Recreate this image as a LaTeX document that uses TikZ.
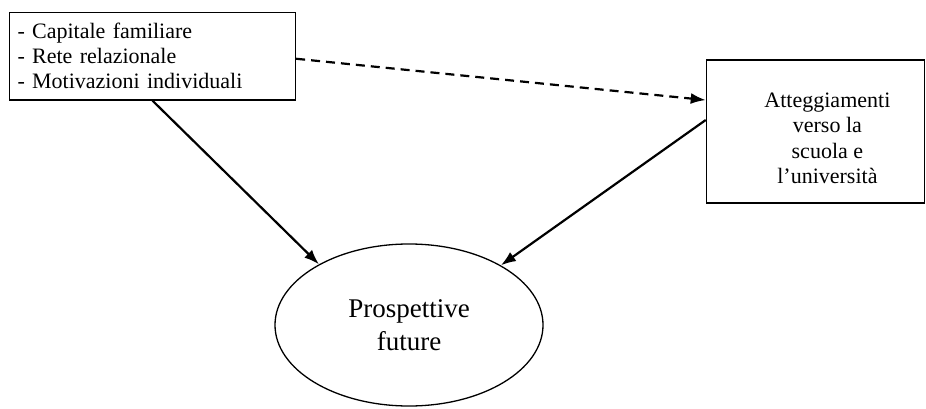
\documentclass[tikz,border=0pt]{standalone}
\usepackage{fontspec}
\setmainfont{Liberation Serif}
\usepackage{tikz}
\usetikzlibrary{shapes.geometric,arrows.meta,positioning}

\begin{document}
\begin{tikzpicture}[
            x=1pt,y=1pt,
            box/.style={draw,rectangle,line width=1.3pt,inner sep=0pt,
                        font=\fontsize{22}{25}\selectfont},
            oval/.style={draw,ellipse,line width=1.3pt,inner sep=0pt,
                         minimum width=268pt,minimum height=162pt,
                         align=center,font=\fontsize{27}{33}\selectfont},
            link/.style={line width=2.2pt},
            >={Latex[length=15pt,width=11pt]}
        ]
        \useasboundingbox (0,0) rectangle (926,408);

        % Draw factors %
        \node[box,minimum width=286pt,minimum height=87.5pt,
              text width=270pt,inner xsep=8pt,align=left]
              (fattori) at (152.5,351.75)
              {- Capitale familiare\\- Rete relazionale\\- Motivazioni individuali};

        % Draw attitudes %
        \node[box,minimum width=218pt,minimum height=143pt,
              label={[xshift=12pt,yshift=-7pt,align=center,
                      font=\fontsize{22}{25.5}\selectfont]center:
                     Atteggiamenti\\verso la\\scuola e\\l’università}]
              (atteggiamenti) at (815.4,276.5) {};

        % Draw outcome %
        \node[oval] (prospettive) at (409,83) {Prospettive\\future};

        % Draw arrows %
        \draw[link,->,dash pattern=on 9pt off 6pt]
            (fattori.-1.5) -- (atteggiamenti.164.4);
        \draw[link,->] (fattori.south) -- (prospettive.146.7);
        \draw[link,->] (atteggiamenti.174) -- (prospettive.33);
        \end{tikzpicture}
\end{document}
